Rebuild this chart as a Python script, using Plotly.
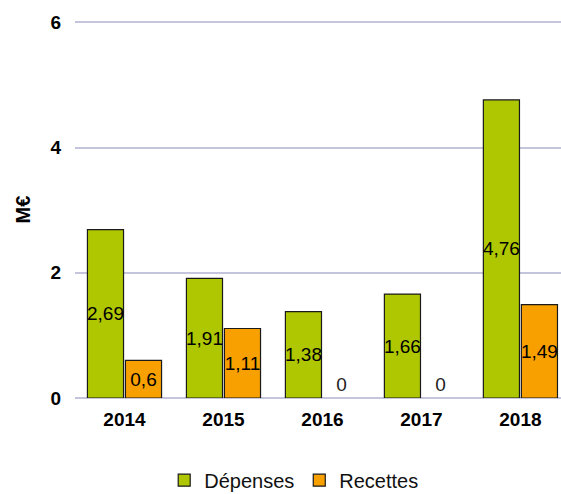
import plotly.graph_objects as go

years = ["2014", "2015", "2016", "2017", "2018"]
depenses = [2.69, 1.91, 1.38, 1.66, 4.76]
recettes = [0.6, 1.11, 0, 0, 1.49]
y_ticks = [0, 2, 4, 6]

def fr(v):
    return ("%g" % v).replace(".", ",")

def positions(vals):
    return ["inside" if v > 0 else "outside" for v in vals]

green = "#afc700"
orange = "#f7a000"
FONT = "Liberation Sans, Arial"

fig = go.Figure()
for name, vals, col in [("Dépenses", depenses, green), ("Recettes", recettes, orange)]:
    fig.add_trace(go.Bar(
        name=name, x=years, y=vals,
        marker=dict(color=col, line=dict(color="#1a1a1a",
                                         width=[1.2 if v > 0 else 0 for v in vals])),
        text=[fr(v) for v in vals],
        textposition=positions(vals),
        insidetextanchor="middle",
        textangle=0,
        constraintext="none",
        cliponaxis=False,
        textfont=dict(family=FONT, size=19, color="#000"),
        outsidetextfont=dict(family=FONT, size=19, color="#222"),
        hoverinfo="skip",
    ))

fig.update_layout(
    width=561, height=494,
    margin=dict(l=75, r=0, t=21, b=96, autoexpand=False),
    paper_bgcolor="white", plot_bgcolor="white",
    barmode="group", bargap=0.232, bargroupgap=0.05,
    font=dict(family=FONT, color="#000"),
    showlegend=True,
    legend=dict(orientation="h", xref="paper", yref="paper",
                x=0.45, xanchor="center", y=-0.218, yanchor="middle",
                font=dict(size=20, color="#111"), traceorder="normal",
                itemwidth=30),
    xaxis=dict(type="category", range=[-0.5, 4.41], showgrid=False,
               showline=False, ticks="", ticklabelstandoff=8,
               tickfont=dict(size=19, weight="bold")),
    yaxis=dict(range=[0, 6.02], tickvals=y_ticks, showgrid=True, gridcolor="#c4c4dc",
               gridwidth=2, zeroline=True, zerolinecolor="#c4c4dc", zerolinewidth=2,
               showline=False, ticks="", ticklabelstandoff=13,
               tickfont=dict(size=19, weight="bold"),
               title=dict(text="M€", font=dict(size=20, weight="bold"), standoff=14)),
)

fig.write_html("out.html",
               config={"displayModeBar": False},
               post_script="document.body.style.margin='0';document.body.style.overflow='hidden';")
